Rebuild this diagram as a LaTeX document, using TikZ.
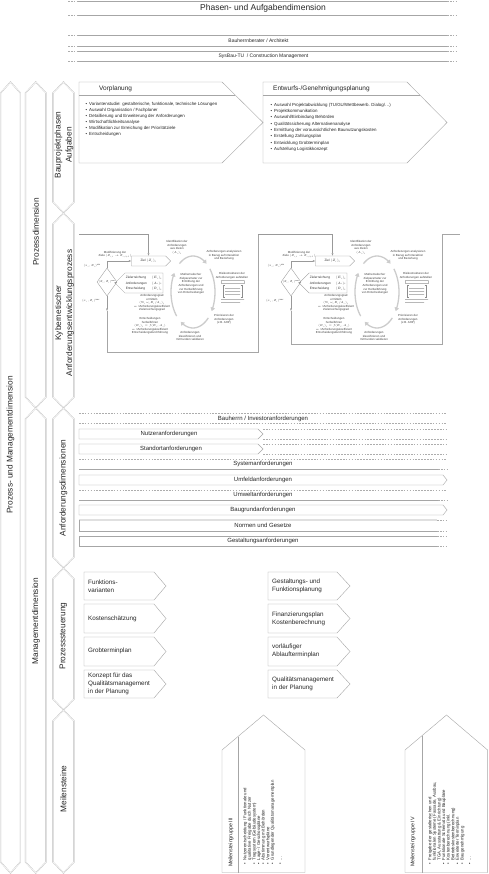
\RequirePackage{fix-cm}
\documentclass[tikz,border=0pt]{standalone}
\usepackage{fontspec}
\setmainfont{Liberation Sans}
\usetikzlibrary{arrows.meta,shapes.geometric,shapes.symbols}
\newcommand\fs[2]{\fontsize{#1}{#2}\selectfont}
\newcommand\vhexa[5]{%
  \draw[colln] (#1,#3+#5) -- ({(#1+#2)/2},#3) -- (#2,#3+#5) -- (#2,#4-#5) -- ({(#1+#2)/2},#4) -- (#1,#4-#5) -- cycle;}
\newcommand\hband[2]{%
  \draw[ln] (77,#1) -- (447,#1) (77,#2) -- (447,#2);
  \draw[dsh] (68,#1) -- (77,#1) (447,#1) -- (457,#1) (68,#2) -- (77,#2) (447,#2) -- (457,#2);}
\newcommand\reqband[2]{%
  \draw[dsh] (79,#1) -- (447,#1);
  \draw[ln] (79,#2) -- (438,#2);
  \draw[dsh] (438,#2) -- (447,#2);}
\newcommand\pentbox[5]{%
  \draw[ln] (#1,#4) -- (#2,#4) -- (#3,{(#4+#5)/2}) -- (#2,#5) -- (#1,#5) -- cycle;}
\newcommand\kybproc[3]{%
\begin{scope}[shift={(#2,0)}]
  \node[kbox,signal,signal to=east,minimum width=39,minimum height=10] (#1ziel) at (148.5,261) {Ziel $(Z_i)_t$};
  \node[kbox,diamond,minimum width=20,minimum height=28,font=\fs{2.6}{3.2}] (#1dia) at (107,282) {$(Z_i,\hat{Z}_i)^{\max}$};
  \node[kbox,signal,signal to=west,minimum width=48,minimum height=20,font=\fs{3.2}{5.5}] (#1tab) at (144,283)
     {\begin{tabular}{@{}l@{\hspace{5pt}}l@{}}Zielerreichung & $(E_i)_t$\\ Anforderungen & $(A_i)_t$\\ Entscheidung & $(R_i)_t$\end{tabular}};
  \node[ktxt] (#1mod) at (115,254.5) {Modifizierung der\\Ziele $(Z_{i,t}\rightarrow Z_{i,t+1})$};
  \node[ktxt,anchor=east] (#1mina) at (101,265.5) {$(x_i,Z_i)^{\min}$};
  \node[ktxt,anchor=east] (#1minb) at (100,301) {$(x_i,Z_i)^{\max}$};
  \node[ktxt] (#1idf) at (177,247.5) {Identifikation der\\Anforderungen\\aus Zielen\\$(A_i)_t$};
  \node[ktxt] (#1ana) at (224,255.5) {Anforderungen analysieren\\in Bezug auf Interaktion\\und Beziehung};
  \node[ktxt] (#1risk) at (232,275.5) {Risikostrukturen der\\Anforderungen aufstellen};
  \node[ktxt] (#1prio) at (224,319.5) {Priorisieren der\\Anforderungen\\(z.B. AHP)};
  \node[ktxt] (#1kla) at (190,336) {Anforderungen\\klassifizieren und\\mit Kunden validieren};
  \node[ktxt] (#1math) at (191,284) {Mathematischer\\Zielparameter zur\\Ermittlung der\\Anforderungen und\\zur Herbeiführung\\von Entscheidungen};
  \node[ktxt] (#1grad) at (152,303) {Anforderungsgrad\\ermitteln\\$(\Sigma_i\,\omega_i E_i/A_i)_t$\\$\omega_i$=Anforderungskoeffizient\\Zielerreichungsgrad};
  \node[ktxt] (#1ent) at (150,326) {Entscheidungen\\herbeiführen\\$(R_i)_t=f(E_i,A_i)$\\$\omega_i$=Anforderungskoeffizient\\Entscheidungsdurchführung};
  \draw[cyc] plot[domain=-128:-52,samples=18] ({193+22*cos(\x)},{292+36*sin(\x)});
  \draw[cyc] plot[domain=-40:32,samples=18] ({193+22*cos(\x)},{292+36*sin(\x)});
  \draw[cyc] plot[domain=46:124,samples=18] ({193+22*cos(\x)},{292+36*sin(\x)});
  \draw[cyc] plot[domain=138:212,samples=18] ({193+22*cos(\x)},{292+36*sin(\x)});
  \draw[black!28,line width=0.15pt,dash pattern=on 0.4pt off 0.6pt] (221,280) rectangle (244,283.5);
  \draw[black!45,line width=0.2pt] (224.5,285) -- (223,285) -- (223,297) -- (224.5,297)
     (240.5,285) -- (242,285) -- (242,297) -- (240.5,297);
  \draw[black!28,line width=0.15pt,dash pattern=on 0.4pt off 0.6pt] (225,288) -- (240,288) (225,291) -- (240,291) (225,294) -- (240,294)
     (221,299.5) -- (244,299.5) (221,302) -- (240,302);
  \draw[karr] (#1dia.north) |- (#1ziel.west);
  \draw[karr] (#1tab.west) -- (#1dia.east);
  \coordinate (#1mid) at (107,311);
  \coordinate (#1bl) at (107,#3);
  \coordinate (#1br) at (258,#3);
  \coordinate (#1tr) at (258,234);
\end{scope}}
\begin{document}
\begin{tikzpicture}[x=1pt,y=-1pt,
  ln/.style={draw=black!35,line width=0.4pt},
  dsh/.style={draw=black!32,line width=0.35pt,dash pattern=on 1.6pt off 1.3pt},
  colln/.style={draw=black!28,line width=0.3pt,double=white,double distance=0.5pt},
  collab/.style={inner sep=0pt,align=center,font=\fs{8.3}{11},text=black!85},
  hdr/.style={inner sep=0pt,font=\fs{8.5}{10},text=black!85},
  bandtxt/.style={inner sep=0pt,font=\fs{5}{6},text=black!85},
  reqtxt/.style={inner sep=0pt,font=\fs{6}{7},text=black!85},
  phhead/.style={inner sep=0pt,anchor=west,font=\fs{6.5}{8},text=black!85},
  phlist/.style={inner sep=0pt,anchor=north west,align=left,font=\fs{4.4}{6},text=black!85},
  pstxt/.style={inner sep=0pt,anchor=west,align=left,font=\fs{6.3}{8},text=black!85},
  ktxt/.style={inner sep=0pt,align=center,font=\fs{2.9}{3.6},text=black!75},
  kbox/.style={draw=black!40,line width=0.35pt,inner sep=0pt,font=\fs{3.2}{4},text=black!80},
  karr/.style={draw=black!40,line width=0.35pt,-{Latex[length=2.5pt,width=2pt]}},
  cyc/.style={draw=black!20,line width=1.3pt,-{Triangle[length=3.5pt,width=4.5pt]}},
  mstitle/.style={inner sep=0pt,font=\fs{5.3}{6.5},text=black!85},
  mslist/.style={inner sep=0pt,align=left,font=\fs{4.3}{4.6},text=black!85},
]
\useasboundingbox[fill=white] (0,0) rectangle (488,874);

% ---------- left columns
\vhexa{0.6}{20.4}{82}{873}{11}
\vhexa{25.5}{46}{82}{408}{11}
\vhexa{25.5}{46}{408}{873}{11}
\vhexa{53}{74}{82}{213}{11}
\vhexa{53}{74}{213}{408}{11}
\vhexa{53}{74}{408}{568}{11}
\vhexa{53}{74}{568}{710}{11}
\vhexa{53}{74}{710}{873}{11}
\node[collab,rotate=90] (c1) at (10.5,445) {Prozess- und Managementdimension};
\node[collab,rotate=90] (c2a) at (36,232) {Prozessdimension};
\node[collab,rotate=90] (c2b) at (36,621) {Managementdimension};
\node[collab,rotate=90] (c3a) at (64,145) {Bauprojektphasen\\Aufgaben};
\node[collab,rotate=90] (c3b) at (64.5,313) {Kybernetischer\\Anforderungsentwicklungsprozess};
\node[collab,rotate=90] (c3c) at (63.5,488) {Anforderungsdimensionen};
\node[collab,rotate=90] (c3d) at (63.5,636) {Prozesssteuerung};
\node[collab,rotate=90] (c3e) at (63.5,789) {Meilensteine};

% ---------- header
\hband{0.8}{15.3}
\node[hdr] (h1) at (263,8) {Phasen- und Aufgabendimension};
\hband{35.3}{46}
\node[bandtxt] (h2) at (258.5,41) {Bauherrnberater / Architekt};
\hband{51}{61.3}
\node[bandtxt] (h3) at (263.5,56.3) {SysBau-TU \ / Construction Management};

% ---------- phases
\draw[ln] (79,82) -- (222,82) -- (263,122.5) -- (222,163) -- (79,163) -- cycle;
\draw[ln] (79,95) -- (235,95);
\node[phhead] (vp) at (99,89) {Vorplanung};
\node[phlist] (vpl) at (85.5,102.3) {\textbullet\hspace{2pt}Variantenstudie: gestalterische, funktionale, technische Lösungen\\
\textbullet\hspace{2pt}Auswahl Organisation / Fachplaner\\
\textbullet\hspace{2pt}Detaillierung und Erweiterung der Anforderungen\\
\textbullet\hspace{2pt}Wirtschaftlichkeitsanalyse\\
\textbullet\hspace{2pt}Modifikation zur Erreichung der Prioritätziele\\
\textbullet\hspace{2pt}Entscheidungen};
\draw[ln] (263,82) -- (407,82) -- (447,122.5) -- (407,163) -- (263,163) -- cycle;
\draw[ln] (263,95) -- (420,95);
\node[phhead] (eg) at (273,89) {Entwurfs-/Genehmigungsplanung};
\node[phlist,font=\fs{4.4}{6.3}] (egl) at (270.5,103) {\textbullet\hspace{2pt}Auswahl Projektabwicklung (TU/GU/Wettbewerb. Dialog/…)\\
\textbullet\hspace{2pt}Projektkommunikation\\
\textbullet\hspace{2pt}Auswahl/Einbindung Behörden\\
\textbullet\hspace{2pt}Qualitätssicherung Alternativenanalyse\\
\textbullet\hspace{2pt}Ermittlung der voraussichtlichen Baunutzungskosten\\
\textbullet\hspace{2pt}Erstellung Zahlungsplan\\
\textbullet\hspace{2pt}Entwicklung Grobterminplan\\
\textbullet\hspace{2pt}Aufstellung Logistikkonzept};

% ---------- cybernetic processes
\kybproc{L}{0}{352}
\kybproc{R}{184}{344}
\coordinate (kin) at (79,234);
\coordinate (kout) at (460,234);
\draw[karr] (kin) -| (Lziel.north);
\draw[karr] (Ldia.south) -- (Lmid);
\draw[ln] (Lmid) -- (Lbl) -- (Lbr) -- (Ltr);
\draw[karr] (Ltr) -| (Rziel.north);
\draw[karr] (Rdia.south) -- (Rmid);
\draw[ln] (Rmid) -- (Rbl) -- (Rbr) -- (Rtr) -- (kout);

% ---------- requirement dimensions
\draw[dsh] (79,413) -- (447,413) (79,423) -- (447,423);
\node[reqtxt] (r1) at (263,418.5) {Bauherrn / Investoranforderungen};
\draw[ln] (79,429) -- (258,429) -- (263,434) -- (258,439) -- (79,439) -- cycle;
\draw[dsh] (263,429) -- (447,429) (263,439) -- (447,439);
\node[reqtxt] (r2) at (169,434) {Nutzeranforderungen};
\draw[ln] (79,444) -- (258,444) -- (263,449) -- (258,454) -- (79,454) -- cycle;
\draw[dsh] (263,444) -- (447,444) (263,454) -- (447,454);
\node[reqtxt] (r3) at (171,449) {Standortanforderungen};
\reqband{459}{469}
\node[reqtxt] (r4) at (263,464) {Systemanforderungen};
\draw[ln] (79,475) -- (443,475) -- (447,480) -- (443,485) -- (79,485) -- cycle;
\node[reqtxt] (r5) at (263,480) {Umfeldanforderungen};
\reqband{490}{500}
\node[reqtxt] (r6) at (263,495) {Umweltanforderungen};
\draw[ln] (79,505) -- (443,505) -- (447,510) -- (443,515) -- (79,515) -- cycle;
\node[reqtxt] (r7) at (263,510) {Baugrundanforderungen};
\draw[draw=black!12,line width=1.3pt] (79,520) -- (437,520);
\draw[ln] (79,520) -- (79,531) -- (437,531);
\draw[dsh] (437,520) -- (447,520) (437,531) -- (447,531);
\node[reqtxt] (r8) at (263,525.5) {Normen und Gesetze};
\draw[ln] (437,536) -- (79,536) -- (79,546) -- (437,546);
\draw[dsh] (437,536) -- (447,536) (437,546) -- (447,546);
\node[reqtxt] (r9) at (263,541) {Gestaltungsanforderungen};

% ---------- process steering
\pentbox{84}{154}{166}{572}{600}
\pentbox{84}{154}{166}{604}{633}
\pentbox{84}{154}{166}{637}{666}
\pentbox{84}{154}{166}{670}{698}
\pentbox{268}{337}{350}{572}{600}
\pentbox{268}{337}{350}{604}{633}
\pentbox{268}{337}{350}{637}{666}
\pentbox{268}{337}{350}{670}{698}
\node[pstxt] (p1) at (88,586) {Funktions-\\varianten};
\node[pstxt] (p2) at (88,618.5) {Kostenschätzung};
\node[pstxt] (p3) at (88,651) {Grobterminplan};
\node[pstxt] (p4) at (88,684) {Konzept für das\\Qualitätsmanagement\\in der Planung};
\node[pstxt] (q1) at (272,586) {Gestaltungs- und\\Funktionsplanung};
\node[pstxt] (q2) at (272,618.5) {Finanzierungsplan\\Kostenberechnung};
\node[pstxt] (q3) at (272,651) {vorläufiger\\Ablaufterminplan};
\node[pstxt] (q4) at (272,684) {Qualitätsmanagement\\in der Planung};

% ---------- milestones
\draw[ln] (222,872.5) -- (222,750) -- (263.5,715) -- (305,750) -- (305,872.5) -- cycle;
\draw[ln] (238,736.5) -- (238,872.5);
\node[mstitle,rotate=90,anchor=west] (m3t) at (231,867) {Meilensteingruppe III};
\node[mslist,rotate=90,anchor=north west] (m3b) at (243,865) {\textbullet\hspace{3pt}Nutzerentscheidung / Funktionale und\\
\phantom{\textbullet}\hspace{3pt}qualitative Freigabe durch Nutzer\\
\textbullet\hspace{3pt}Tragsystem (Gebäudesystem)\\
\textbullet\hspace{3pt}Lage- / Geschosspläne\\
\textbullet\hspace{3pt}Abstimmung mit Behörden\\
\textbullet\hspace{3pt}Vorentwurfspläne\\
\textbullet\hspace{3pt}Grundlegender Qualitätsmanagementplan\\[3pt]
\textbullet\hspace{3pt}...};
\draw[ln] (405,872.5) -- (405,750) -- (446.5,715) -- (487.6,750) -- (487.6,872.5) -- cycle;
\draw[ln] (422,735.7) -- (422,872.5);
\node[mstitle,rotate=90,anchor=west] (m4t) at (413,867) {Meilensteingruppe IV};
\node[mslist,rotate=90,anchor=north west] (m4b) at (428,865) {\textbullet\hspace{3pt}Freigabe der gestalterischen und\\
\phantom{\textbullet}\hspace{3pt}funktionalen Systeme (Fassade, Ausbau,\\
\phantom{\textbullet}\hspace{3pt}TGA, Ausstattung \& Einrichtung)\\
\textbullet\hspace{3pt}Funktionale Schemata und Baupläne\\
\textbullet\hspace{3pt}Kostenberechnung (inkl.\\
\phantom{\textbullet}\hspace{3pt}Betriebskostenberechnung)\\
\textbullet\hspace{3pt}Erweiterter Terminplan\\
\textbullet\hspace{3pt}Baugenehmigung\\[3pt]
\textbullet\hspace{3pt}...};
\end{tikzpicture}
\end{document}
